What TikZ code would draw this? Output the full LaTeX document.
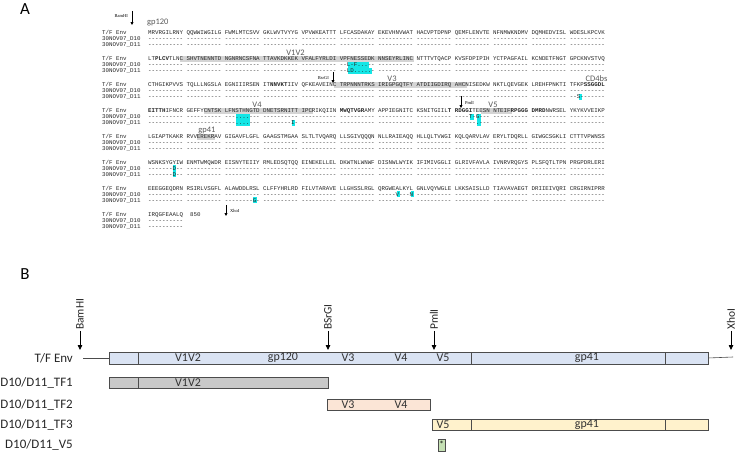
\documentclass[tikz,border=0pt]{standalone}
\usepackage{fontspec}
\setmainfont{Carlito}
\setmonofont{Liberation Mono}
\newfontfamily\sitefont{Liberation Serif}
\usetikzlibrary{arrows.meta}
\definecolor{tfblue}{HTML}{DAE3F3}
\definecolor{tfgray}{HTML}{C9C9C9}
\definecolor{tfpeach}{HTML}{FBE5D6}
\definecolor{tfyellow}{HTML}{FFF2CC}
\definecolor{tfgreen}{HTML}{C5E0B4}
\definecolor{varshade}{HTML}{D4D4D4}
\definecolor{mutcyan}{HTML}{14E6E6}
\newcommand{\seqbox}[4]{\fill[#1] ({148+3.5*(#3)},{#2-3}) rectangle ({148+3.5*(#4+1)},{#2+3});}
\tikzset{
  seq/.style={font={\ttfamily\frenchspacing\fontsize{5.83}{6}\selectfont}, inner sep=0pt, anchor=base west, text=black!85},
  region/.style={font={\fontsize{8.5}{9}\selectfont}, inner sep=0pt, text=black!65},
  siteA/.style={font={\sitefont\fontsize{4.5}{5}\selectfont}, inner sep=0pt},
  arrA/.style={-{Triangle[length=3pt,width=3pt]}, line width=0.9pt},
  panel/.style={font={\fontsize{17}{18}\selectfont}, inner sep=0pt},
  rowlbl/.style={font={\fontsize{13}{14}\selectfont}, anchor=east, inner sep=0pt, text=black!85},
  barlbl/.style={font={\fontsize{12}{12}\selectfont}, inner sep=0pt, text=black!80},
  siteB/.style={font={\fontsize{11.5}{12}\selectfont}, rotate=90, anchor=west, inner sep=1pt, text=black!85},
  arrB/.style={-{Triangle[length=5pt,width=4.5pt]}, line width=0.8pt},
  bar/.style={draw=black!70, line width=0.8pt},
  lead/.style={draw=black!70, line width=0.6pt}
}
\begin{document}
\begin{tikzpicture}[x=1bp,y=-1bp]
\useasboundingbox (0,0) rectangle (737,452);
\node[panel] (labA) at (25,9) {A};
\node[panel] (labB) at (25,274) {B};

\seqbox{varshade}{58.9}{9}{75} \seqbox{varshade}{84.8}{53}{90}
\seqbox{varshade}{110.7}{16}{46} \seqbox{varshade}{110.7}{95}{103}
\seqbox{varshade}{136.6}{14}{18}
\seqbox{mutcyan}{64.9}{57}{62} \seqbox{mutcyan}{70.9}{57}{63}
\seqbox{mutcyan}{96.8}{123}{123}
\seqbox{mutcyan}{116.7}{25}{28} \seqbox{mutcyan}{116.7}{92}{92} \seqbox{mutcyan}{116.7}{94}{94}
\seqbox{mutcyan}{122.7}{25}{28} \seqbox{mutcyan}{122.7}{41}{41} \seqbox{mutcyan}{122.7}{94}{94}
\seqbox{mutcyan}{168.5}{7}{7} \seqbox{mutcyan}{174.5}{7}{7}
\seqbox{mutcyan}{194.4}{71}{71} \seqbox{mutcyan}{194.4}{75}{75}
\seqbox{mutcyan}{200.4}{30}{30}

\foreach \k in {0,1,2,3,4,5,6,7} {
  \node[seq] (lt\k) at (102,{35+25.9*\k}) {T/F Env};
  \node[seq] (la\k) at (102,{41+25.9*\k}) {30NOV07\_D10};
  \node[seq] (lb\k) at (102,{47+25.9*\k}) {30NOV07\_D11};
}

\node[seq] (tf0) at (148,35) {MRVRGILRNY QQWWIWGILG FWMLMTCSVV GKLWVTVYYG VPVWKEATTT LFCASDAKAY EKEVHNVWAT HACVPTDPNP QEMFLENVTE NFNMWKNDMV DQMHEDVISL WDESLKPCVK};
\node[seq] (da0) at (148,41) {---------- ---------- ---------- ---------- ---------- ---------- ---------- ---------- ---------- ---------- ---------- ----------};
\node[seq] (db0) at (148,47) {---------- ---------- ---------- ---------- ---------- ---------- ---------- ---------- ---------- ---------- ---------- ----------};
\node[seq] (tf1) at (148,60.9) {LT\textbf{PLCV}TLNC SHVTNENNTD NGNRNCSFNA TTAVKDKKEK VFALFYRLDI VPFNESSEDK NNSEYRLINC NTTTVTQACP KVSFDPIPIH YCTPAGFAIL KCNDETFNGT GPCKNVSTVQ};
\node[seq] (da1) at (148,66.9) {---------- ---------- ---------- ---------- ---------- --L-F...-- ---------- ---------- ---------- ---------- ---------- ----------};
\node[seq] (db1) at (148,72.9) {---------- ---------- ---------- ---------- ---------- --LD.....- ---------- ---------- ---------- ---------- ---------- ----------};
\node[seq] (tf2) at (148,86.8) {CTHGIKPVVS TQLLLNGSLA EGNIIIRSEN IT\textbf{NNVKT}IIV QFKEAVEINC TRPNNNTRKS IRIGPGQTFY ATDIIGDIRQ AHCNISEDKW NKTLQEVGEK LREHFPNKTI TFKP\textbf{SSGGDL}};
\node[seq] (da2) at (148,92.8) {---------- ---------- ---------- ---------- ---------- ---------- ---------- ---------- ---------- ---------- ---------- ----------};
\node[seq] (db2) at (148,98.8) {---------- ---------- ---------- ---------- ---------- ---------- ---------- ---------- ---------- ---------- ---------- --S-------};
\node[seq] (tf3) at (148,112.7) {\textbf{EITTH}IFNCR GEFFYCNTSK LFNSTHNGTD DNETSRNITT IPCRIKQIIN \textbf{MWQTVGR}AMY APPIEGNITC KSNITGIIL\textbf{T} \textbf{RDGGI}TEESN NTEIF\textbf{RPGGG} \textbf{DMRD}NWRSEL YKYKVVEIKP};
\node[seq] (da3) at (148,118.7) {---------- ---------- ---....--- ---------- ---------- ---------- ---------- ---------- ----T-G--- ---------- ---------- ----------};
\node[seq] (db3) at (148,124.7) {---------- ---------- ---....--- --------I- ---------- ---------- ---------- ---------- ------.--- ---------- ---------- ----------};
\node[seq] (tf4) at (148,138.6) {LGIAPTKAKR RVVEREKRAV GIGAVFLGFL GAAGSTMGAA SLTLTVQARQ LLSGIVQQQN NLLRAIEAQQ HLLQLTVWGI KQLQARVLAV ERYLTDQRLL GIWGCSGKLI CTTTVPWNSS};
\node[seq] (da4) at (148,144.6) {---------- ---------- ---------- ---------- ---------- ---------- ---------- ---------- ---------- ---------- ---------- ----------};
\node[seq] (db4) at (148,150.6) {---------- ---------- ---------- ---------- ---------- ---------- ---------- ---------- ---------- ---------- ---------- ----------};
\node[seq] (tf5) at (148,164.5) {WSNKSYGYIW ENMTWMQWDR EISNYTEIIY RMLEDSQTQQ EINEKELLEL DKWTNLWNWF DISNWLWYIK IFIMIVGGLI GLRIVFAVLA IVNRVRQGYS PLSFQTLTPN PRGPDRLERI};
\node[seq] (da5) at (148,170.5) {-------D-- ---------- ---------- ---------- ---------- ---------- ---------- ---------- ---------- ---------- ---------- ----------};
\node[seq] (db5) at (148,176.5) {-------D-- ---------- ---------- ---------- ---------- ---------- ---------- ---------- ---------- ---------- ---------- ----------};
\node[seq] (tf6) at (148,190.4) {EEEGGEQDRN RSIRLVSGFL ALAWDDLRSL CLFFYHRLRD FILVTARAVE LLGHSSLRGL QRGWEALKYL GNLVQYWGLE LKKSAISLLD TIAVAVAEGT DRIIEIVQRI CRGIRNIPRR};
\node[seq] (da6) at (148,196.4) {---------- ---------- ---------- ---------- ---------- ---------- -----V---N ---------- ---------- ---------- ---------- ----------};
\node[seq] (db6) at (148,202.4) {---------- ---------- --------G- ---------- ---------- ---------- ---------- ---------- ---------- ---------- ---------- ----------};
\node[seq] (tf7) at (148,216.3) {IRQGFEAALQ}; \node[seq] (len) at (190,216.3) {850};
\node[seq] (da7) at (148,222.3) {----------};
\node[seq] (db7) at (148,228.3) {----------};

\node[region, anchor=west] (gp120A) at (147,22.5) {gp120};
\node[region] (v1v2A) at (295.5,52.6) {V1V2};
\node[region] (v3A) at (392,78.5) {V3};
\node[region] (cd4A) at (596.5,78.5) {CD4bs};
\node[region] (v4A) at (257,104.4) {V4};
\node[region] (v5A) at (493,104.4) {V5};
\node[region] (gp41A) at (207,130.3) {gp41};

\coordinate (bamAt) at (132,11); \coordinate (bamAb) at (132,25);
\draw[arrA] (bamAt) -- (bamAb); \node[siteA, anchor=east] (bamA) at (128,16) {BamHI};
\coordinate (bsrAt) at (333,72); \coordinate (bsrAb) at (333,83);
\draw[arrA] (bsrAt) -- (bsrAb); \node[siteA, anchor=east] (bsrA) at (329,78) {BsrGI};
\coordinate (pmlAt) at (461,96); \coordinate (pmlAb) at (461,108);
\draw[arrA] (pmlAt) -- (pmlAb); \node[siteA, anchor=west] (pmlA) at (465,103) {PmlI};
\coordinate (xhoAt) at (226,205); \coordinate (xhoAb) at (226,216);
\draw[arrA] (xhoAt) -- (xhoAb); \node[siteA, anchor=west] (xhoA) at (230,211) {XhoI};

\node[rowlbl] (rTF) at (73,358) {T/F Env};
\node[rowlbl] (rTF1) at (73,382.5) {D10/D11\_TF1};
\node[rowlbl] (rTF2) at (73,404.5) {D10/D11\_TF2};
\node[rowlbl] (rTF3) at (73,424.5) {D10/D11\_TF3};
\node[rowlbl] (rV5) at (73,445) {D10/D11\_V5};

\coordinate (leadL) at (83,358); \coordinate (envL) at (109,358);
\coordinate (envR) at (708,358); \coordinate (leadR) at (733,357);
\draw[lead] (leadL) -- (envL); \draw[lead] (envR) -- (leadR);
\draw[bar, fill=tfblue] (109,352) rectangle (708,364);
\draw[bar] (138,352) -- (138,364); \draw[bar] (471,352) -- (471,364); \draw[bar] (665,352) -- (665,364);
\node[barlbl] (eV1) at (188,358) {V1V2}; \node[barlbl] (eGp120) at (283,358) {gp120};
\node[barlbl] (eV3) at (348,358) {V3}; \node[barlbl] (eV4) at (401,358) {V4};
\node[barlbl] (eV5) at (443,358) {V5}; \node[barlbl] (eGp41) at (587,358) {gp41};

\draw[bar, fill=tfgray] (109,377) rectangle (328,388); \draw[bar] (138,377) -- (138,388);
\node[barlbl] (aV1) at (188,382.5) {V1V2};
\draw[bar, fill=tfpeach] (327,399) rectangle (430,410);
\node[barlbl] (bV3) at (348,404.5) {V3}; \node[barlbl] (bV4) at (401,404.5) {V4};
\draw[bar, fill=tfyellow] (432,419) rectangle (708,430);
\draw[bar] (471,419) -- (471,430); \draw[bar] (665,419) -- (665,430);
\node[barlbl] (cV5) at (443,424.5) {V5}; \node[barlbl] (cGp41) at (587,424.5) {gp41};
\draw[bar, fill=tfgreen] (438,439.5) rectangle (445,451);
\node[inner sep=0pt, font={\fontsize{9}{9}\selectfont}] (star) at (441.5,444.5) {*};

\node[siteB] (bamB) at (80,331) {BamHI}; \coordinate (bamTip) at (80,350);
\node[siteB] (bsrB) at (328,331) {BSrGI}; \coordinate (bsrTip) at (328,350);
\node[siteB] (pmlB) at (434,331) {PmlI}; \coordinate (pmlTip) at (434,350);
\node[siteB] (xhoB) at (731,331) {XhoI}; \coordinate (xhoTip) at (731,350);
\draw[arrB] (bamB.west) -- (bamTip); \draw[arrB] (bsrB.west) -- (bsrTip);
\draw[arrB] (pmlB.west) -- (pmlTip); \draw[arrB] (xhoB.west) -- (xhoTip);
\end{tikzpicture}
\end{document}
